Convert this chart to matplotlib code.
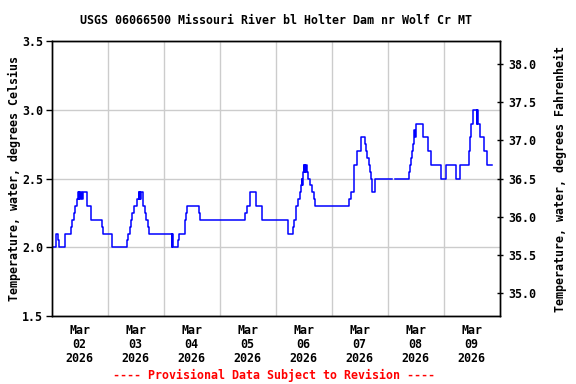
import numpy as np
import pandas as pd
import matplotlib
matplotlib.use("Agg")
import matplotlib.pyplot as plt
import matplotlib.dates as mdates
from matplotlib.ticker import FixedLocator, FormatStrFormatter

# change points of the 15-min step series (value holds until next time)
times = [
    "03-02 00:00", "03-02 01:45", "03-02 02:45", "03-02 03:15", "03-02 05:30",
    "03-02 08:15", "03-02 08:45", "03-02 09:30", "03-02 10:00", "03-02 10:45",
    "03-02 11:15", "03-02 11:30", "03-02 11:45", "03-02 12:15", "03-02 12:45",
    "03-02 13:00", "03-02 13:30", "03-02 15:00", "03-02 17:00", "03-02 21:30",
    "03-02 22:00", "03-03 01:45", "03-03 08:15", "03-03 08:45", "03-03 09:30",
    "03-03 10:00", "03-03 10:30", "03-03 11:15", "03-03 12:45", "03-03 13:15",
    "03-03 13:30", "03-03 13:45", "03-03 14:00", "03-03 14:15", "03-03 15:00",
    "03-03 15:15", "03-03 16:00", "03-03 16:30", "03-03 17:15", "03-03 17:45",
    "03-04 03:30", "03-04 03:45", "03-04 04:00", "03-04 06:15", "03-04 06:45",
    "03-04 09:15", "03-04 09:30", "03-04 10:00", "03-04 15:15", "03-04 15:45",
    "03-05 10:45", "03-05 11:45", "03-05 13:00", "03-05 15:30", "03-05 18:15",
    "03-06 05:30", "03-06 07:15", "03-06 08:00", "03-06 08:45", "03-06 09:45",
    "03-06 10:30", "03-06 11:00", "03-06 11:15", "03-06 11:30", "03-06 11:45",
    "03-06 12:00", "03-06 12:15", "03-06 12:30", "03-06 12:45", "03-06 13:00",
    "03-06 13:30", "03-06 14:00", "03-06 14:45", "03-06 15:30", "03-06 16:30",
    "03-06 17:00", "03-07 07:30", "03-07 08:30", "03-07 09:45", "03-07 11:00",
    "03-07 12:30", "03-07 14:15", "03-07 14:45", "03-07 15:15", "03-07 16:00",
    "03-07 16:30", "03-07 17:00", "03-07 17:30", "03-07 18:30", "03-08 02:00",
    "03-08 03:00", "03-08 09:00", "03-08 09:30", "03-08 10:00", "03-08 10:30",
    "03-08 11:00", "03-08 11:15", "03-08 11:30", "03-08 11:45", "03-08 12:15",
    "03-08 15:15", "03-08 17:15", "03-08 18:30", "03-08 22:45", "03-09 01:00",
    "03-09 05:15", "03-09 07:00", "03-09 10:45", "03-09 11:15", "03-09 11:45",
    "03-09 12:30", "03-09 14:15", "03-09 14:30", "03-09 14:45", "03-09 15:45",
    "03-09 17:15", "03-09 18:30", "03-09 20:45",
]
temps_c = [
    2.0, 2.1, 2.05, 2.0, 2.1,
    2.15, 2.2, 2.25, 2.3, 2.35,
    2.4, 2.35, 2.4, 2.35, 2.4,
    2.35, 2.4, 2.3, 2.2, 2.15,
    2.1, 2.0, 2.05, 2.1, 2.15,
    2.2, 2.25, 2.3, 2.35, 2.4,
    2.35, 2.4, 2.35, 2.4, 2.35,
    2.3, 2.25, 2.2, 2.15, 2.1,
    2.0, 2.1, 2.0, 2.05, 2.1,
    2.2, 2.25, 2.3, 2.25, 2.2,
    2.25, 2.3, 2.4, 2.3, 2.2,
    2.1, 2.15, 2.2, 2.3, 2.35,
    2.4, 2.45, 2.5, 2.45, 2.55,
    2.6, 2.55, 2.6, 2.55, 2.6,
    2.55, 2.5, 2.45, 2.4, 2.35,
    2.3, 2.35, 2.4, 2.6, 2.7,
    2.8, 2.75, 2.7, 2.65, 2.6,
    2.55, 2.5, 2.4, 2.5, np.nan,
    2.5, 2.55, 2.6, 2.65, 2.7,
    2.75, 2.8, 2.85, 2.8, 2.9,
    2.8, 2.7, 2.6, 2.5, 2.6,
    2.5, 2.6, 2.7, 2.8, 2.9,
    3.0, 2.9, 3.0, 2.9, 2.8,
    2.7, 2.6, 2.6,
]
day_labels = ["Mar\n02\n2026", "Mar\n03\n2026", "Mar\n04\n2026", "Mar\n05\n2026",
              "Mar\n06\n2026", "Mar\n07\n2026", "Mar\n08\n2026", "Mar\n09\n2026"]
left_ticks = [1.5, 2.0, 2.5, 3.0, 3.5]
right_ticks = [35.0, 35.5, 36.0, 36.5, 37.0, 37.5, 38.0]

title = "USGS 06066500 Missouri River bl Holter Dam nr Wolf Cr MT"
footer = "---- Provisional Data Subject to Revision ----"

MONO = ["DejaVu Sans Mono"]
FS = 8.4

t = pd.to_datetime(["2026-" + s for s in times])
y = np.array(temps_c, dtype=float)

fig = plt.figure(figsize=(5.76, 3.84), dpi=100)
ax = fig.add_axes([51.7 / 576, 1 - 316 / 384, (499.5 - 51.7) / 576, (316 - 41) / 384])

ax.plot(t, y, drawstyle="steps-post", color="#0000ff", lw=1.1)

x0 = pd.Timestamp("2026-03-02 00:00")
x1 = pd.Timestamp("2026-03-10 00:00")
ax.set_xlim(x0, x1)
ax.set_ylim(1.5, 3.5)

noons = pd.date_range("2026-03-02 12:00", periods=8, freq="D")
mids = pd.date_range("2026-03-03 00:00", periods=7, freq="D")
ax.xaxis.set_major_locator(FixedLocator(mdates.date2num(noons)))
ax.set_xticklabels(day_labels, family=MONO, fontweight="bold", fontsize=FS, linespacing=1.1)
ax.xaxis.set_minor_locator(FixedLocator(mdates.date2num(mids)))
ax.tick_params(axis="x", which="major", length=0, pad=6)
ax.tick_params(axis="x", which="minor", length=0)
ax.grid(True, which="minor", axis="x", color="#cccccc", lw=1)

ax.set_yticks(left_ticks)
ax.yaxis.set_major_formatter(FormatStrFormatter("%.1f"))
for lab in ax.get_yticklabels():
    lab.set_family(MONO); lab.set_fontweight("bold"); lab.set_fontsize(FS)
ax.tick_params(axis="y", which="major", length=4, width=1, direction="out", pad=2)
ax.grid(True, which="major", axis="y", color="#cccccc", lw=1)
ax.set_axisbelow(True)

ax.set_ylabel("Temperature, water, degrees Celsius", family=MONO, fontweight="bold",
              fontsize=FS, labelpad=1)

ax2 = ax.twinx()
ax2.set_ylim(1.5 * 1.8 + 32, 3.5 * 1.8 + 32)
ax2.set_yticks(right_ticks)
ax2.yaxis.set_major_formatter(FormatStrFormatter("%.1f"))
for lab in ax2.get_yticklabels():
    lab.set_family(MONO); lab.set_fontweight("bold"); lab.set_fontsize(FS)
ax2.tick_params(axis="y", length=4, width=1, direction="inout", pad=4)
ax2.set_ylabel("Temperature, water, degrees Fahrenheit", family=MONO, fontweight="bold",
               fontsize=FS, labelpad=13)

for a in (ax, ax2):
    for sp in a.spines.values():
        sp.set_linewidth(1.0)
        sp.set_color("black")

fig.text(275.6 / 576, 1 - 20 / 384, title, ha="center", va="center",
         family=MONO, fontweight="bold", fontsize=FS)
fig.text(274 / 576, 1 - 375 / 384, footer, ha="center", va="center",
         family=MONO, fontweight="bold", fontsize=FS, color="red")

fig.savefig("out.png", dpi=100)
